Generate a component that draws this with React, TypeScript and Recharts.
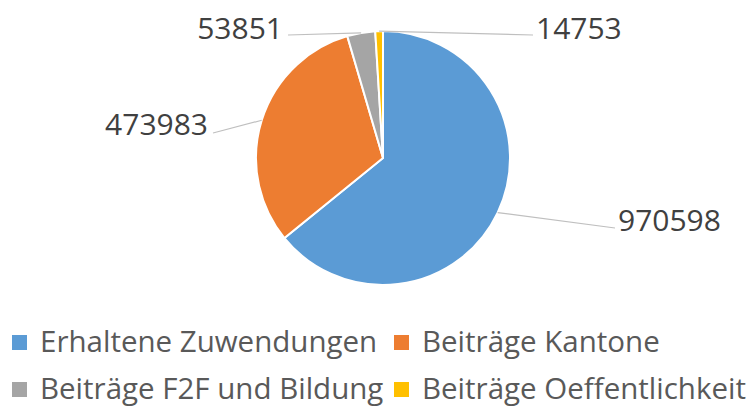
import React from 'react';
import { PieChart, Pie, Cell, Legend } from 'recharts';

// Source data
const categories = [
  'Erhaltene Zuwendungen',
  'Beiträge Kantone',
  'Beiträge F2F und Bildung',
  'Beiträge Oeffentlichkeit',
];
const amounts = [970598, 473983, 53851, 14753];

// Office palette
const COLORS = ['#5B9BD5', '#ED7D31', '#A5A5A5', '#FFC000'];
const LABEL_COLOR = '#404040';
const LEGEND_COLOR = '#595959';
const LEADER_COLOR = '#BFBFBF';
const FONT = '"Open Sans", "Noto Sans", sans-serif';

// Label placement relative to pie centre (Excel "best fit" look)
// [lineEndX, lineEndY, textX, textY, anchor]
const labelLayout: [number, number, number, number, 'start' | 'end'][] = [
  [232, 70, 235, 61, 'start'],
  [-170, -25, -175, -35, 'end'],
  [-95, -123, -100, -131, 'end'],
  [150, -123, 153, -131, 'start'],
];

const pieData = categories.map((name, i) => ({ name, value: amounts[i] }));

const RADIAN = Math.PI / 180;

const renderLabel = (props: any) => {
  const { cx, cy, midAngle, outerRadius, index, value } = props;
  const [lx, ly, tx, ty, anchor] = labelLayout[index];
  const ex = cx + outerRadius * Math.cos(-midAngle * RADIAN);
  const ey = cy + outerRadius * Math.sin(-midAngle * RADIAN);
  return (
    <g>
      <polyline
        points={`${ex},${ey} ${cx + lx},${cy + ly}`}
        fill="none"
        stroke={LEADER_COLOR}
        strokeWidth={1.2}
      />
      <text
        x={cx + tx}
        y={cy + ty}
        textAnchor={anchor}
        dominantBaseline="central"
        fill={LABEL_COLOR}
        fontSize={30}
        fontFamily={FONT}
      >
        {value}
      </text>
    </g>
  );
};

// two-column legend, Excel style
const legendCols = [12, 394];
const legendRows = [0, 47];

const CustomLegend: React.FC<any> = () => (
  <svg width={753} height={90} style={{ display: 'block' }}>
    {categories.map((name, i) => {
      const x = legendCols[i % 2];
      const y = legendRows[Math.floor(i / 2)];
      return (
        <g key={name}>
          <rect x={x} y={y + 15} width={15} height={15} fill={COLORS[i]} />
          <text
            x={x + 28}
            y={y + 32}
            fill={LEGEND_COLOR}
            fontSize={29.5}
            fontFamily={FONT}
          >
            {name}
          </text>
        </g>
      );
    })}
  </svg>
);

export default function App() {
  return (
    <div style={{ width: 753, height: 407, background: '#fff' }}>
      <style>{'body{margin:0}'}</style>
      <PieChart width={753} height={407} margin={{ top: 0, right: 0, bottom: 0, left: 0 }}>
        <Pie
          data={pieData}
          dataKey="value"
          nameKey="name"
          cx={383}
          cy={158}
          outerRadius={127}
          startAngle={90}
          endAngle={-270}
          stroke="#fff"
          strokeWidth={2}
          label={renderLabel}
          labelLine={false}
          isAnimationActive={false}
        >
          {pieData.map((d, i) => (
            <Cell key={d.name} fill={COLORS[i]} />
          ))}
        </Pie>
        <Legend
          content={<CustomLegend />}
          wrapperStyle={{ position: 'absolute', top: 320, left: 0, width: 753 }}
        />
      </PieChart>
    </div>
  );
}
